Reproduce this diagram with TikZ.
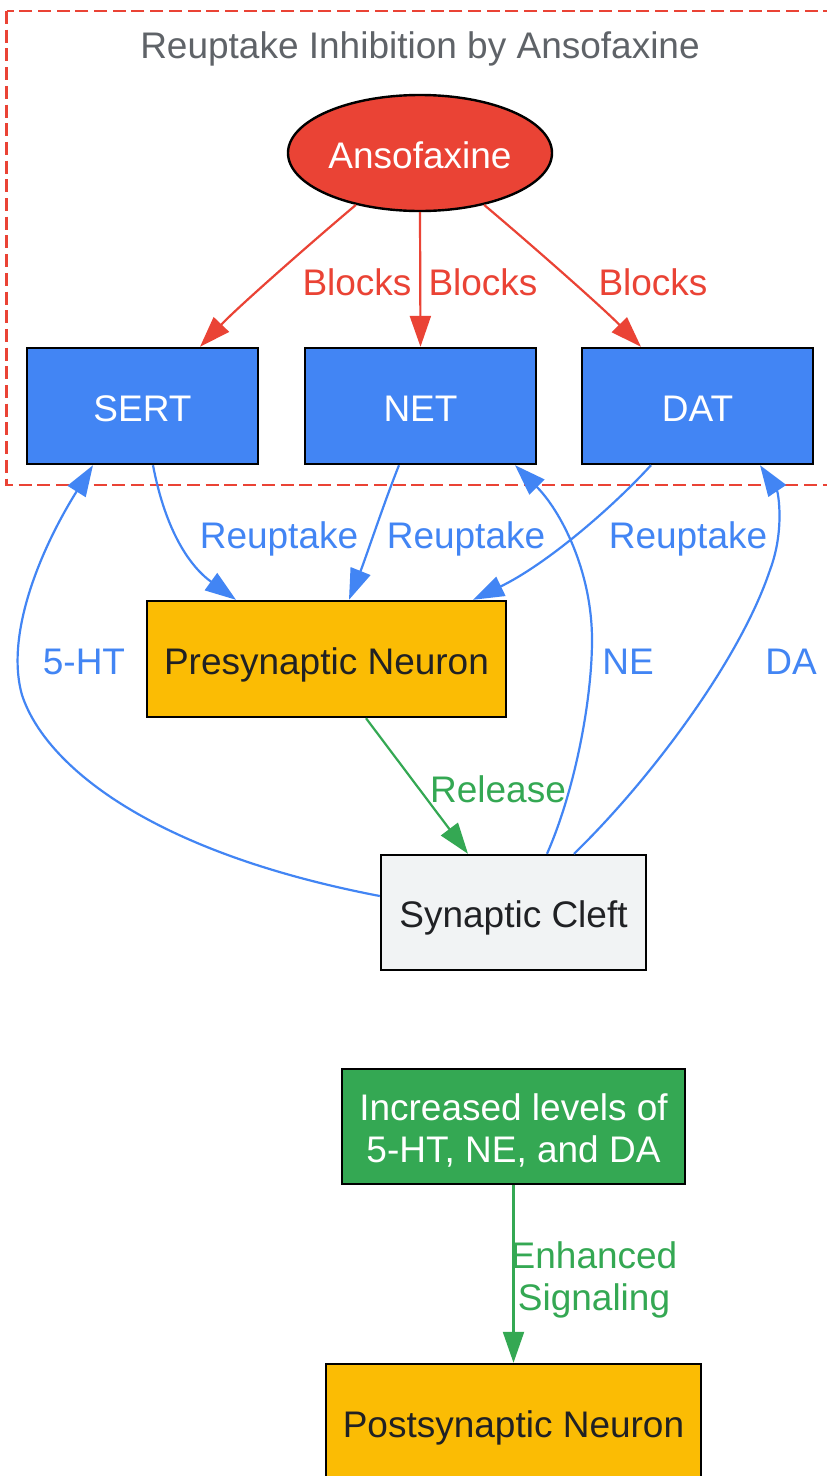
\documentclass[tikz,border=0pt]{standalone}
\usepackage{fontspec}
\setmainfont{Liberation Sans}
\usetikzlibrary{arrows.meta,shapes.geometric}
\definecolor{gred}{HTML}{EA4335}
\definecolor{gblue}{HTML}{4285F4}
\definecolor{gamber}{HTML}{FBBC04}
\definecolor{ggreen}{HTML}{34A853}
\definecolor{glight}{HTML}{F1F3F4}
\definecolor{gtitle}{HTML}{5F6368}
\definecolor{gdark}{HTML}{202124}
\tikzset{
  oneline/.style={text height=34pt, text depth=4pt},
  box/.style={draw=black, line width=2.4pt, rectangle, inner sep=0pt, anchor=center},
  bluebox/.style={box, oneline, fill=gblue, text=white, minimum width=231pt, minimum height=116pt},
  lbl/.style={inner sep=0pt, anchor=center, oneline},
  mlbl/.style={inner sep=0pt, anchor=center, align=center},
  conn/.style={line width=2.2pt, -{Triangle[length=31pt,width=21pt]}},
  redconn/.style={conn, draw=gred},
  blueconn/.style={conn, draw=gblue},
  greenconn/.style={conn, draw=ggreen},
  every node/.style={font=\fontsize{37}{42}\selectfont}
}
\begin{document}
\begin{tikzpicture}[x=1pt,y=-1pt]
\clip (0,0) rectangle (827,1476);
\fill[white] (0,0) rectangle (827,1476);
% cluster
\draw[gred, line width=2.7pt, dash pattern=on 13pt off 5.7pt] (6.5,11) rectangle (845,485);
\node[lbl, text=gtitle] (title) at (420,43.5) {Reuptake Inhibition by Ansofaxine};
% nodes
\node[draw=black, line width=2.4pt, ellipse, oneline, fill=gred, text=white, minimum width=264pt, minimum height=116pt, inner sep=0pt] (ans) at (420,153) {Ansofaxine};
\node[bluebox] (sert) at (142.5,406) {SERT};
\node[bluebox] (net) at (420.5,406) {NET};
\node[bluebox] (dat) at (697.5,406) {DAT};
\node[box, oneline, fill=gamber, text=gdark, minimum width=359pt, minimum height=116pt] (pre) at (326.5,659) {Presynaptic Neuron};
\node[box, oneline, fill=glight, text=gdark, minimum width=265pt, minimum height=115pt] (cleft) at (513.5,912.5) {Synaptic Cleft};
\node[box, fill=ggreen, text=white, minimum width=343pt, minimum height=115pt, align=center] (inc) at (513.5,1126.5) {\rule{0pt}{34pt}Increased levels of\\5-HT, NE, and DA};
\node[box, oneline, fill=gamber, text=gdark, minimum width=375pt, minimum height=116pt] (post) at (513.5,1422) {Postsynaptic Neuron};
% Blocks edges
\draw[redconn] (ans.219) .. controls (320,235) and (240,305) .. ([xshift=57.5pt]sert.north);
\draw[redconn] (ans.south) -- (net.north);
\draw[redconn] (ans.-39) .. controls (520,235) and (600,305) .. ([xshift=-56.5pt]dat.north);
\node[lbl, text=gred] (b1) at (357,280.5) {Blocks};
\node[lbl, text=gred] (b2) at (483,280.5) {Blocks};
\node[lbl, text=gred] (b3) at (653,280.5) {Blocks};
% Reuptake edges
\draw[blueconn] ([xshift=10.5pt]sert.south) .. controls (165,528) and (188,565) .. ([xshift=-90.5pt]pre.north);
\draw[blueconn] ([xshift=-21.5pt]net.south) .. controls (385,500) and (365,560) .. ([xshift=22.5pt]pre.north);
\draw[blueconn] ([xshift=-46.5pt]dat.south) .. controls (610,510) and (545,565) .. ([xshift=146.5pt]pre.north);
\node[lbl, text=gblue] (r1) at (279,533.5) {Reuptake};
\node[lbl, text=gblue] (r2) at (466,533.5) {Reuptake};
\node[lbl, text=gblue] (r3) at (688,533.5) {Reuptake};
% Release
\draw[greenconn] ([xshift=39.5pt]pre.south) -- ([xshift=-45.5pt]cleft.north);
\node[lbl, text=ggreen] (rel) at (498,787.5) {Release};
% return edges
\draw[blueconn] ([yshift=16.5pt]cleft.west) .. controls (150,852) and (45,765) .. (22,695) .. controls (5,635) and (40,550) .. ([xshift=-49.5pt]sert.south);
\draw[blueconn] ([xshift=33.5pt]cleft.north) .. controls (575,790) and (592,700) .. (592,640) .. controls (592,570) and (560,510) .. ([xshift=94.5pt]net.south);
\draw[blueconn] ([xshift=60.5pt]cleft.north) .. controls (650,780) and (740,660) .. (770,570) .. controls (785,530) and (778,492) .. ([xshift=62.5pt]dat.south);
\node[lbl, text=gblue] (l5ht) at (84,659.5) {5-HT};
\node[lbl, text=gblue] (lne) at (628,659.5) {NE};
\node[lbl, text=gblue] (lda) at (791,659.5) {DA};
% Enhanced signaling
\draw[greenconn] (inc.south) -- (post.north);
\node[mlbl, text=ggreen] (enh) at (594,1280) {Enhanced\\Signaling};
\end{tikzpicture}
\end{document}
